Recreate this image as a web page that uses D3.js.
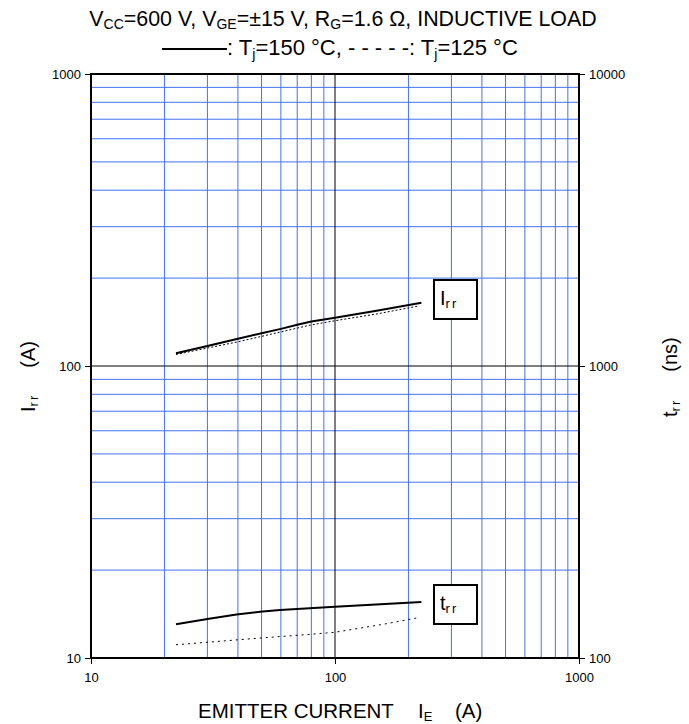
<!DOCTYPE html>
<html>
<head>
<meta charset="utf-8">
<script src="https://cdn.jsdelivr.net/npm/d3@7"></script>
<style>
  html, body { margin: 0; padding: 0; background: #fff; }
  svg { display: block; font-family: "Liberation Sans", Arial, sans-serif; }
</style>
</head>
<body>
<svg id="chart" width="689" height="724"></svg>
<script>
// Reverse recovery current Irr (left axis, A) and reverse recovery time trr (right axis, ns)
// versus emitter current IE (A), for Tj = 150 °C (solid) and Tj = 125 °C (dashed).

const irrCurrent150 = [22.3, 30, 40, 50, 60, 70, 80, 100, 150, 226];
const irrValue150   = [110.5, 117, 124, 129.5, 134, 138.5, 142, 146.2, 155, 164.8];

const irrCurrent125 = [22.3, 40, 79, 100, 150, 220];
const irrValue125   = [109.5, 121, 138, 142.9, 151, 160.5];

const trrCurrent150 = [22.3, 30, 39.5, 49.3, 59.5, 100, 226];
const trrValue150   = [130.5, 136, 141, 144, 146, 149.9, 155.6];

const trrCurrent125 = [22.3, 49, 79, 100, 158, 219];
const trrValue125   = [111, 117, 120.5, 122.5, 130.5, 137.4];

const xDomain = [10, 1000];
const leftDomain = [10, 1000];
const rightDomain = [100, 10000];
const xTickValues = [10, 100, 1000];
const leftTickValues = [10, 100, 1000];
const rightTickValues = [100, 1000, 10000];

const svg = d3.select("#chart");
const plot = { left: 91, right: 579, top: 74, bottom: 658 };

const x = d3.scaleLog().domain(xDomain).range([plot.left, plot.right]);
const yL = d3.scaleLog().domain(leftDomain).range([plot.bottom, plot.top]);
const yR = d3.scaleLog().domain(rightDomain).range([plot.bottom, plot.top]);

const gridBlue = "#4472f2";

// minor grid (2..9 of each decade)
const minorX = [], minorY = [];
[10, 100].forEach(d => { for (let k = 2; k <= 9; k++) { minorX.push(d * k); minorY.push(d * k); } });

const grid = svg.append("g");
grid.selectAll("line.vx").data(minorX).join("line")
  .attr("x1", d => x(d)).attr("x2", d => x(d))
  .attr("y1", plot.top).attr("y2", plot.bottom)
  .attr("stroke", gridBlue).attr("stroke-width", 1);
grid.selectAll("line.hy").data(minorY).join("line")
  .attr("x1", plot.left).attr("x2", plot.right)
  .attr("y1", d => yL(d)).attr("y2", d => yL(d))
  .attr("stroke", gridBlue).attr("stroke-width", 1);

// decade grid lines
grid.append("line")
  .attr("x1", x(100)).attr("x2", x(100)).attr("y1", plot.top).attr("y2", plot.bottom)
  .attr("stroke", "#000").attr("stroke-width", 1);
grid.append("line")
  .attr("x1", plot.left).attr("x2", plot.right).attr("y1", yL(100)).attr("y2", yL(100))
  .attr("stroke", "#000").attr("stroke-width", 1);

// axes
const fmt = d3.format("d");
function styleAxis(g) {
  g.select(".domain").remove();
  g.selectAll(".tick line").attr("stroke", "#000").attr("stroke-width", 1);
  g.selectAll(".tick text").attr("fill", "#000")
    .style("font-family", "'Liberation Sans', Arial, sans-serif").style("font-size", "13px");
}
svg.append("g").attr("transform", `translate(${plot.left},0)`)
  .call(d3.axisLeft(yL).tickValues(leftTickValues).tickFormat(fmt).tickSize(6).tickPadding(4))
  .call(styleAxis);
svg.append("g").attr("transform", `translate(${plot.right},0)`)
  .call(d3.axisRight(yR).tickValues(rightTickValues).tickFormat(fmt).tickSize(6).tickPadding(4))
  .call(styleAxis);
svg.append("g").attr("transform", `translate(0,${plot.bottom})`)
  .call(d3.axisBottom(x).tickValues(xTickValues).tickFormat(fmt).tickSize(6).tickPadding(9))
  .call(styleAxis);

// frame
svg.append("rect")
  .attr("x", plot.left).attr("y", plot.top)
  .attr("width", plot.right - plot.left).attr("height", plot.bottom - plot.top)
  .attr("fill", "none").attr("stroke", "#000").attr("stroke-width", 2);

// curves
const lineL = d3.line().x(d => x(d[0])).y(d => yL(d[1]));
const lineR = d3.line().x(d => x(d[0])).y(d => yR(d[1]));
const zip = (a, b) => a.map((v, i) => [v, b[i]]);

svg.append("path").datum(zip(irrCurrent150, irrValue150)).attr("d", lineL)
  .attr("fill", "none").attr("stroke", "#000").attr("stroke-width", 2);
svg.append("path").datum(zip(irrCurrent125, irrValue125)).attr("d", lineL)
  .attr("fill", "none").attr("stroke", "#000").attr("stroke-width", 1)
  .attr("stroke-dasharray", "2,2");
svg.append("path").datum(zip(trrCurrent150, trrValue150)).attr("d", lineR)
  .attr("fill", "none").attr("stroke", "#000").attr("stroke-width", 2);
svg.append("path").datum(zip(trrCurrent125, trrValue125)).attr("d", lineR)
  .attr("fill", "none").attr("stroke", "#000").attr("stroke-width", 1)
  .attr("stroke-dasharray", "2,4");

// curve labels in boxes
function boxLabel(bx, by, main, sub) {
  const g = svg.append("g");
  g.append("rect").attr("x", bx).attr("y", by).attr("width", 43).attr("height", 39)
    .attr("fill", "#fff").attr("stroke", "#000").attr("stroke-width", 2);
  const t = g.append("text").attr("x", bx + 6).attr("y", by + 25)
    .style("font-size", "20px").attr("fill", "#000");
  t.append("tspan").text(main);
  t.append("tspan").attr("dy", 3).style("font-size", "13px").attr("letter-spacing", "2px").text(sub);
}
boxLabel(434, 280, "I", "rr");
boxLabel(434, 585, "t", "rr");

// title
const title1Size = "21.4px", title2Size = "22px", subSize = "14px";
const title1 = svg.append("text").attr("x", 343).attr("y", 26)
  .attr("text-anchor", "middle").style("font-size", title1Size).attr("fill", "#000");
[["V", 0], ["CC", 1], ["=600 V, V", 0], ["GE", 1], ["=±15 V, R", 0], ["G", 1], ["=1.6 Ω, INDUCTIVE LOAD", 0]]
  .forEach(([s, sub], i, arr) => {
    const prevSub = i > 0 && arr[i - 1][1];
    title1.append("tspan").text(s)
      .attr("dy", sub ? 3 : (prevSub ? -3 : 0))
      .style("font-size", sub ? subSize : title1Size);
  });

svg.append("line").attr("x1", 162).attr("x2", 227).attr("y1", 49).attr("y2", 49)
  .attr("stroke", "#000").attr("stroke-width", 2);
const title2 = svg.append("text").attr("x", 227).attr("y", 55)
  .style("font-size", title2Size).attr("fill", "#000");
[[": T", 0], ["j", 1], ["=150 °C, - - - - -: T", 0], ["j", 1], ["=125 °C", 0]]
  .forEach(([s, sub], i, arr) => {
    const prevSub = i > 0 && arr[i - 1][1];
    title2.append("tspan").text(s)
      .attr("dy", sub ? 4 : (prevSub ? -4 : 0))
      .style("font-size", sub ? subSize : title2Size);
  });

// x-axis title
const xt = svg.append("text").attr("y", 718).style("font-size", "20.5px").attr("fill", "#000");
xt.append("tspan").attr("x", 198).text("EMITTER CURRENT");
xt.append("tspan").attr("x", 418).text("I");
xt.append("tspan").attr("dy", 3).style("font-size", "13px").text("E");
xt.append("tspan").attr("dy", -3).attr("x", 455).text("(A)");

// left y-axis title
const lt = svg.append("text").attr("transform", "translate(35,412) rotate(-90)")
  .style("font-size", "20px").attr("fill", "#000");
lt.append("tspan").text("I");
lt.append("tspan").attr("dy", 3).style("font-size", "13px").attr("letter-spacing", "2px").text("rr");
lt.append("tspan").attr("dy", -3).attr("dx", 26).text("(A)");

// right y-axis title
const rt = svg.append("text").attr("transform", "translate(677,417) rotate(-90)")
  .style("font-size", "20px").attr("fill", "#000");
rt.append("tspan").text("t");
rt.append("tspan").attr("dy", 3).style("font-size", "13px").attr("letter-spacing", "2px").text("rr");
rt.append("tspan").attr("dy", -3).attr("dx", 27).text("(ns)");
</script>
</body>
</html>
